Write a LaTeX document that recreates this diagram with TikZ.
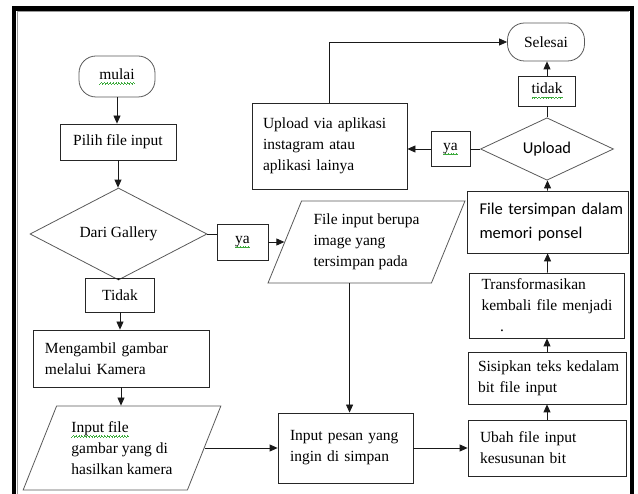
\documentclass[tikz,border=0pt]{standalone}
\usepackage{fontspec}
\setmainfont{Liberation Serif}
\newfontfamily\calibri{Carlito}
\usetikzlibrary{shapes.geometric,arrows.meta}
\definecolor{spellgreen}{RGB}{60,170,60}
\newcommand\wavestep{\rule[-4.9pt]{0.7pt}{0.7pt}\rule[-4.2pt]{0.7pt}{0.7pt}%
    \rule[-3.5pt]{0.7pt}{0.7pt}\rule[-4.2pt]{0.7pt}{0.7pt}}
\newcommand\gwave[1]{\setbox0=\hbox{#1}\rlap{\textcolor{spellgreen}{%
    \hbox to\wd0{\xleaders\hbox{\wavestep}\hfill}}}\box0}

\begin{document}
\begin{tikzpicture}[
    x=1pt, y=-1pt,
    every node/.style={font=\fontsize{15.5}{21}\selectfont},
    box/.style={rectangle, draw=black!85, line width=0.8pt, align=left},
    tag/.style={rectangle, draw=black!85, line width=0.8pt, align=center, inner sep=0pt},
    term/.style={rectangle, rounded corners=17pt, draw=black!65, line width=0.8pt, align=center, inner sep=0pt},
    decision/.style={diamond, draw=black!65, line width=0.8pt, inner sep=0pt, align=center},
    io/.style={trapezium, trapezium stretches=true, trapezium left angle=64, trapezium right angle=116,
               draw=black!65, line width=0.8pt, inner sep=0pt, align=left},
    sans/.style={font=\calibri\fontsize{16.5}{24}\selectfont},
    link/.style={black!90, line width=0.8pt},
    arr/.style={link, -{Triangle[length=8pt,width=7pt]}}
]
\useasboundingbox (0,0) rectangle (638,494);

% frame
\draw[line width=4.5pt] (14,494) -- (14,8.5) -- (632,8.5) -- (632,494);
\draw[black!40, line width=0.6pt] (17,494) -- (17,11.5) -- (629,11.5);

% left column
\node[term, minimum width=76pt, minimum height=41pt] (mulai) at (117,76.5) {\gwave{mulai}};
\node[tag, minimum width=116pt, minimum height=36pt] (pilih) at (118,142) {Pilih file input};
\node[decision, minimum width=177pt, minimum height=64pt] (gal) at (118.5,234) {Dari Gallery};
\node[tag, minimum width=69pt, minimum height=34pt] (tdkL) at (120,295) {Tidak};
\node[box, text width=152pt, inner xsep=12pt, minimum height=57pt] (meng) at (121,358.5)
    {Mengambil gambar\\melalui Kamera};
\node[io, minimum width=198pt, minimum height=84pt] (inpf) at (122,448)
    {\gwave{Input file}\\gambar yang di\\hasilkan kamera};

% middle
\node[tag, minimum width=51pt, minimum height=36pt] (yaL) at (242.5,242) {\gwave{ya}};
\node[io, minimum width=197pt, minimum height=82pt] (fin) at (366.5,242)
    {File input berupa\\image yang\\tersimpan pada};
\node[box, text width=111pt, inner xsep=12pt, minimum height=70pt] (pesan) at (345.5,448)
    {Input pesan yang\\ingin di simpan};
\node[box, text width=133pt, inner xsep=11pt, minimum height=86pt] (via) at (329.5,146)
    {Upload via aplikasi\\instagram atau\\aplikasi lainya};

% right column
\node[box, text width=134pt, inner xsep=12pt, minimum height=56pt] (ubah) at (547,448)
    {Ubah file input\\kesusunan bit};
\node[box, text width=138pt, inner xsep=10pt, minimum height=52pt] (sisip) at (547,378)
    {\mbox{Sisipkan teks kedalam}\\bit file input};
\node[box, text width=131pt, inner xsep=12pt, minimum height=65pt] (trans) at (547,305.5)
    {Transformasikan\\kembali file menjadi\\\hspace*{1.2em}.};
\node[box, sans, text width=137pt, inner xsep=12pt, minimum height=62pt] (simpan) at (548,222)
    {\mbox{File tersimpan dalam}\\memori ponsel};
\node[decision, sans, minimum width=133pt, minimum height=58pt] (upl) at (547,149) {Upload};
\node[tag, minimum width=57pt, minimum height=30pt] (tdkR) at (547,91) {\gwave{tidak}};
\node[term, minimum width=77pt, minimum height=38pt] (selesai) at (546,42) {Selesai};
\node[tag, minimum width=39pt, minimum height=35pt] (yaR) at (450.5,149) {\gwave{ya}};

% connectors
\draw[arr] (mulai.south) -- (mulai.south |- pilih.north);
\draw[arr] (pilih.south) -- (pilih.south |- gal.north);
\draw[link] (gal.south) -- (gal.south |- tdkL.north);
\draw[arr] (tdkL.south) -- (tdkL.south |- meng.north);
\draw[arr] (meng.south) -- (meng.south |- inpf.north);
\draw[arr] (inpf.right side) -- (pesan.west);
\draw[link] (gal.east) -- (gal.east -| yaL.west);
\draw[arr] (yaL.east) -- (fin.left side);
\draw[arr] (fin.bottom side) -- (fin.bottom side |- pesan.north);
\draw[arr] (pesan.east) -- (ubah.west);
\draw[arr] (ubah) -- (sisip);
\draw[arr] (sisip) -- (trans);
\draw[arr] (trans) -- (simpan);
\draw[arr] (simpan) -- (upl);
\draw[link] (upl) -- (tdkR);
\draw[arr] (tdkR.north) -- (tdkR.north |- selesai.south);
\draw[link] (upl.west) -- (yaR.east);
\draw[arr] (yaR.west) -- (yaR.west -| via.east);
\draw[arr] (via.north) |- (selesai.west);
\end{tikzpicture}
\end{document}
